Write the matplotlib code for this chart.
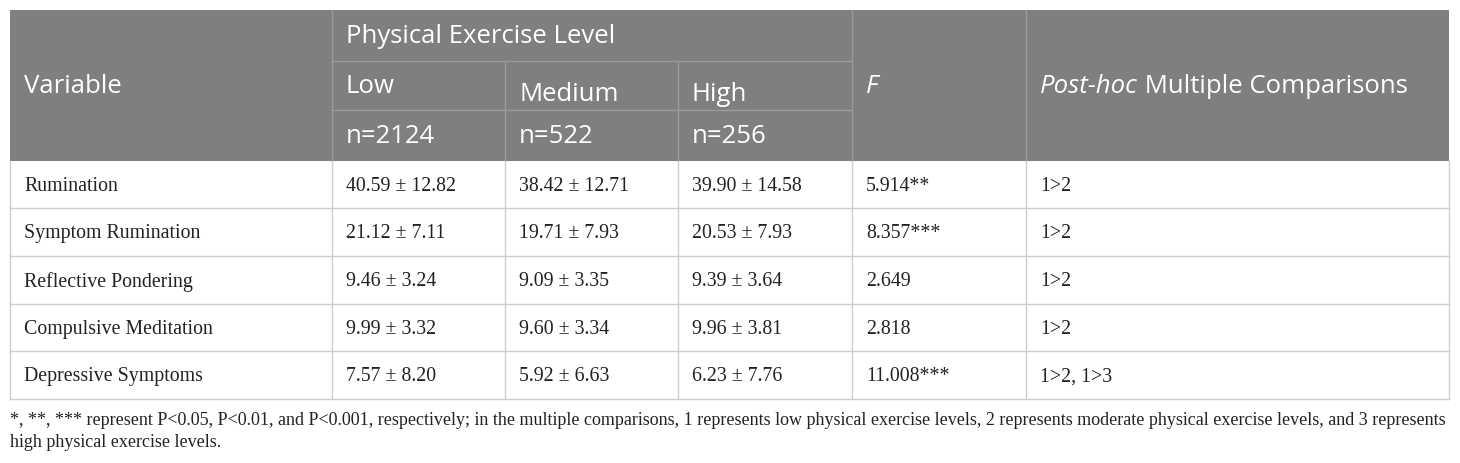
import matplotlib
matplotlib.use("Agg")
import matplotlib.pyplot as plt
from matplotlib.patches import Rectangle

# table content
variables = ["Rumination", "Symptom Rumination", "Reflective Pondering",
             "Compulsive Meditation", "Depressive Symptoms"]
low_vals = ["40.59 ± 12.82", "21.12 ± 7.11", "9.46 ± 3.24", "9.99 ± 3.32", "7.57 ± 8.20"]
medium_vals = ["38.42 ± 12.71", "19.71 ± 7.93", "9.09 ± 3.35", "9.60 ± 3.34", "5.92 ± 6.63"]
high_vals = ["39.90 ± 14.58", "20.53 ± 7.93", "9.39 ± 3.64", "9.96 ± 3.81", "6.23 ± 7.76"]
f_vals = ["5.914**", "8.357***", "2.649", "2.818", "11.008***"]
posthoc_vals = ["1>2", "1>2", "1>2", "1>2", "1>2, 1>3"]
levels = ["Low", "Medium", "High"]
level_n = ["n=2124", "n=522", "n=256"]
footnote = ["*, **, *** represent P<0.05, P<0.01, and P<0.001, respectively; in the multiple comparisons, 1 represents low physical exercise levels, 2 represents moderate physical exercise levels, and 3 represents",
            "high physical exercise levels."]

# layout (pixels)
W, H = 1460, 464
col_x = [10, 332, 505, 678, 852, 1026, 1449]
head_y = [11, 62, 111, 162]
row_y = [162, 209, 257, 305, 352, 400]
pad = 14
head_fill = "#7f7f7f"
head_line = "#9a9a9a"
grid = "#cdcdcd"
txt = "#222222"
sans = ["Open Sans", "DejaVu Sans"]
serif = ["Liberation Serif", "DejaVu Serif"]
hsize = 18.5
bsize = 14.3

fig = plt.figure(figsize=(W / 100, H / 100), dpi=100)
ax = fig.add_axes([0, 0, 1, 1])
ax.set_xlim(0, W)
ax.set_ylim(H, 0)
ax.axis("off")
renderer = fig.canvas.get_renderer()


def text_width(t):
    bb = t.get_window_extent(renderer)
    return bb.x1 - bb.x0


# header block
ax.add_patch(Rectangle((col_x[0], head_y[0]), col_x[-1] - col_x[0], head_y[-1] - head_y[0],
                       facecolor=head_fill, edgecolor="none"))
# header inner lines
for x in col_x[1:-1]:
    y0 = head_y[1] if x in col_x[2:4] else head_y[0]
    ax.plot([x, x], [y0, head_y[-1]], color=head_line, lw=1)
ax.plot([col_x[1], col_x[4]], [head_y[1], head_y[1]], color=head_line, lw=1)
ax.plot([col_x[1], col_x[4]], [head_y[2], head_y[2]], color=head_line, lw=1)

# body grid
for y in row_y[1:]:
    ax.plot([col_x[0], col_x[-1]], [y, y], color=grid, lw=1)
for x in col_x:
    ax.plot([x, x], [row_y[0], row_y[-1]], color=grid, lw=1)

# header text
ax.text(col_x[0] + pad, (head_y[0] + head_y[-1]) / 2, "Variable", color="white",
        family=sans, fontsize=hsize, va="center")
ax.text(col_x[1] + pad, (head_y[0] + head_y[1]) / 2, "Physical Exercise Level", color="white",
        family=sans, fontsize=hsize, va="center")
lvl_offset = [0, 8, 8]
for i, (lv, n) in enumerate(zip(levels, level_n)):
    ax.text(col_x[1 + i] + pad, (head_y[1] + head_y[2]) / 2 + lvl_offset[i], lv, color="white",
            family=sans, fontsize=hsize, va="center")
    ax.text(col_x[1 + i] + pad, (head_y[2] + head_y[3]) / 2, n, color="white",
            family=sans, fontsize=hsize, va="center")
ax.text(col_x[4] + pad, (head_y[0] + head_y[-1]) / 2, "F", color="white",
        family=sans, fontsize=hsize, va="center", style="italic")
t1 = ax.text(col_x[5] + pad, (head_y[0] + head_y[-1]) / 2, "Post-hoc", color="white",
             family=sans, fontsize=hsize, va="center", style="italic")
ax.text(col_x[5] + pad + text_width(t1), (head_y[0] + head_y[-1]) / 2, " Multiple Comparisons",
        color="white", family=sans, fontsize=hsize, va="center")

# body text
columns = [variables, low_vals, medium_vals, high_vals, f_vals, posthoc_vals]
for c, vals in enumerate(columns):
    for r, v in enumerate(vals):
        ax.text(col_x[c] + pad, (row_y[r] + row_y[r + 1]) / 2 + 1, v, color=txt,
                family=serif, fontsize=bsize, va="center")

# footnote, first line fitted to the table width
fn = [ax.text(col_x[0], 421 + 22 * i, line, color=txt, family=serif, fontsize=bsize, va="center")
      for i, line in enumerate(footnote)]
fsize = bsize * (col_x[-1] - col_x[0] - 2) / text_width(fn[0])
for t in fn:
    t.set_fontsize(fsize)

fig.savefig("out.png", dpi=100)
